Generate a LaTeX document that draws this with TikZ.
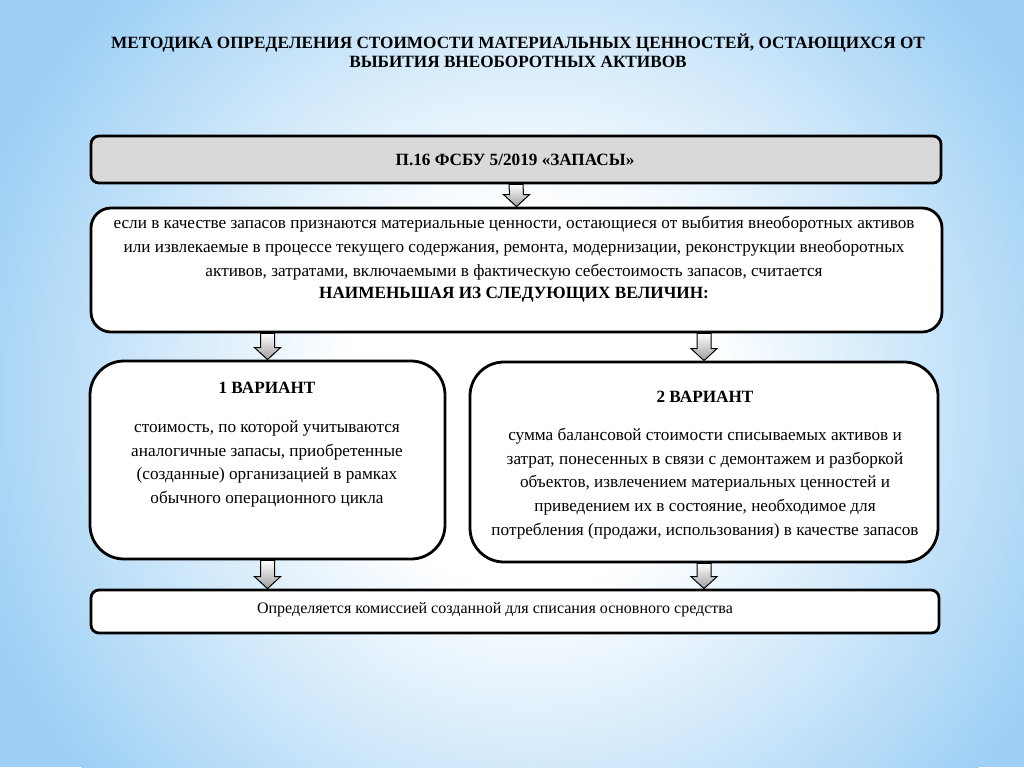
\documentclass[tikz,border=0pt]{standalone}
\usepackage{fontspec}
\setmainfont{Liberation Serif}[BoldFont={Liberation Serif Bold}]
\usetikzlibrary{calc,fit}
\definecolor{bgblue}{RGB}{158,208,245}
\definecolor{boxgray}{RGB}{217,217,217}
\pgfdeclareradialshading{bgshade}{\pgfpoint{0bp}{0bp}}{color(0bp)=(white); color(8bp)=(white); color(25bp)=(bgblue); color(50bp)=(bgblue)}
\tikzset{
  box/.style={draw=black, line width=1.4pt, fill=white, inner sep=0pt},
  txt/.style={font=\fontsize{8.6}{11.85}\selectfont, align=center, inner sep=0pt, text=black},
  btxt/.style={txt, font=\fontsize{8.6}{11.85}\selectfont\bfseries},
  blockarrow/.style={draw=black, line width=0.5pt, top color=white, bottom color=black!38},
}
\newcommand{\blockarr}[2]{\path[blockarrow] ($(#1)+(-7,0)$) -- ($(#2)+(-7,-12)$) -- ($(#2)+(-13,-12)$) -- (#2) -- ($(#2)+(13,-12)$) -- ($(#2)+(7,-12)$) -- ($(#1)+(7,0)$) -- cycle;}
\begin{document}
\begin{tikzpicture}[x=0.5pt,y=-0.5pt]
\useasboundingbox (0,0) rectangle (1024,767);
% background
\fill[bgblue] (0,0) rectangle (1024,767);
\begin{scope}
  \clip (0,0) rectangle (1024,767);
  \shade[shading=bgshade] (530,400) ellipse [x radius=580, y radius=580];
\end{scope}
% title
\node[btxt, font=\fontsize{8.6}{9.6}\selectfont\bfseries] (title) at (518,51)
  {МЕТОДИКА ОПРЕДЕЛЕНИЯ СТОИМОСТИ МАТЕРИАЛЬНЫХ ЦЕННОСТЕЙ, ОСТАЮЩИХСЯ ОТ\\ВЫБИТИЯ ВНЕОБОРОТНЫХ АКТИВОВ};
% boxes
\node[box, fill=boxgray, rounded corners=4pt, fit={(91,136)(941,183)}] (b1) {};
\node[box, rounded corners=10pt, fit={(91,208)(942,332)}] (b2) {};
\node[box, rounded corners=17pt, fit={(90,361)(445,559)}] (b3l) {};
\node[box, rounded corners=17pt, fit={(470,362)(938,562)}] (b3r) {};
\node[box, rounded corners=4pt, fit={(91,590)(939,633)}] (b4) {};
% texts
\node[btxt] (t1) at (515,160) {П.16 ФСБУ 5/2019 «ЗАПАСЫ»};
\node[txt] (t2) at (514,248) {если в качестве запасов признаются материальные ценности, остающиеся от выбития внеоборотных активов\\или извлекаемые в процессе текущего содержания, ремонта, модернизации, реконструкции внеоборотных\\активов, затратами, включаемыми в фактическую себестоимость запасов, считается};
\node[btxt] (t2b) at (514,295) {НАИМЕНЬШАЯ ИЗ СЛЕДУЮЩИХ ВЕЛИЧИН:};
\node[btxt] (h3l) at (267,388) {1 ВАРИАНТ};
\node[txt] (t3l) at (267,464) {стоимость, по которой учитываются\\аналогичные запасы, приобретенные\\(созданные) организацией в рамках\\обычного операционного цикла};
\node[btxt] (h3r) at (705,397) {2 ВАРИАНТ};
\node[txt] (t3r) at (705,483.5) {сумма балансовой стоимости списываемых активов и\\затрат, понесенных в связи с демонтажем и разборкой\\объектов, извлечением материальных ценностей и\\приведением их в состояние, необходимое для\\потребления (продажи, использования) в качестве запасов};
\node[txt, font=\fontsize{8}{10}\selectfont] (t4) at (495,610) {Определяется комиссией созданной для списания основного средства};
% arrows
\coordinate (a2l) at (b2.south -| b3l.north);
\coordinate (a2r) at (b2.south -| b3r.north);
\coordinate (a3l) at (b4.north -| b3l.south);
\coordinate (a3r) at (b4.north -| b3r.south);
\blockarr{b1.south}{b2.north}
\blockarr{a2l}{b3l.north}
\blockarr{a2r}{b3r.north}
\blockarr{b3l.south}{a3l}
\blockarr{b3r.south}{a3r}
\end{tikzpicture}
\end{document}
